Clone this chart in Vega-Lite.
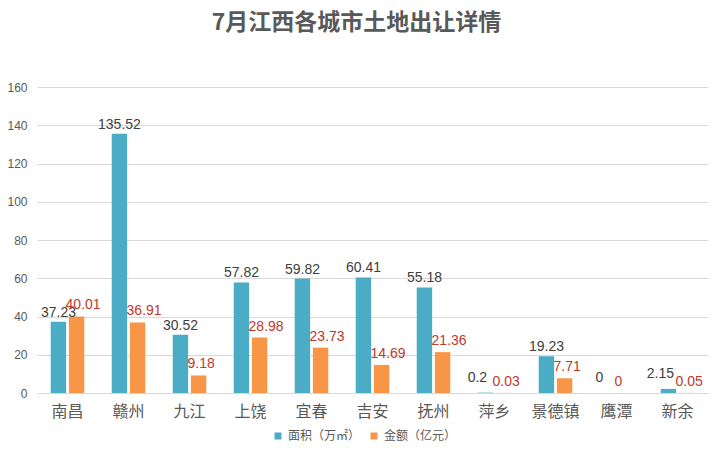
{
  "$schema": "https://vega.github.io/schema/vega-lite/v6.json",
  "width": 671,
  "height": 306,
  "autosize": {"type": "none"},
  "padding": {"left": 37, "top": 87, "right": 12, "bottom": 62},
  "background": "white",
  "title": {
    "text": "7月江西各城市土地出让详情",
    "font": "Noto Sans CJK SC",
    "fontSize": 23,
    "fontWeight": "bold",
    "color": "#595959",
    "anchor": "middle",
    "dx": -16,
    "offset": 46
  },
  "data": {
    "values": [
      {"city": "南昌", "series": "面积（万㎡）", "value": 37.23},
      {"city": "南昌", "series": "金额（亿元）", "value": 40.01},
      {"city": "赣州", "series": "面积（万㎡）", "value": 135.52},
      {"city": "赣州", "series": "金额（亿元）", "value": 36.91},
      {"city": "九江", "series": "面积（万㎡）", "value": 30.52},
      {"city": "九江", "series": "金额（亿元）", "value": 9.18},
      {"city": "上饶", "series": "面积（万㎡）", "value": 57.82},
      {"city": "上饶", "series": "金额（亿元）", "value": 28.98},
      {"city": "宜春", "series": "面积（万㎡）", "value": 59.82},
      {"city": "宜春", "series": "金额（亿元）", "value": 23.73},
      {"city": "吉安", "series": "面积（万㎡）", "value": 60.41},
      {"city": "吉安", "series": "金额（亿元）", "value": 14.69},
      {"city": "抚州", "series": "面积（万㎡）", "value": 55.18},
      {"city": "抚州", "series": "金额（亿元）", "value": 21.36},
      {"city": "萍乡", "series": "面积（万㎡）", "value": 0.2},
      {"city": "萍乡", "series": "金额（亿元）", "value": 0.03},
      {"city": "景德镇", "series": "面积（万㎡）", "value": 19.23},
      {"city": "景德镇", "series": "金额（亿元）", "value": 7.71},
      {"city": "鹰潭", "series": "面积（万㎡）", "value": 0},
      {"city": "鹰潭", "series": "金额（亿元）", "value": 0},
      {"city": "新余", "series": "面积（万㎡）", "value": 2.15},
      {"city": "新余", "series": "金额（亿元）", "value": 0.05}
    ]
  },
  "encoding": {
    "x": {
      "field": "city",
      "type": "nominal",
      "sort": null,
      "scale": {"paddingInner": 0.45, "paddingOuter": 0.225},
      "axis": {
        "title": null,
        "labelAngle": 0,
        "labelFont": "Noto Sans CJK SC",
        "labelFontSize": 16,
        "labelColor": "#595959",
        "ticks": false,
        "domain": false,
        "labelPadding": 10
      }
    },
    "xOffset": {
      "field": "series",
      "type": "nominal",
      "sort": ["面积（万㎡）", "金额（亿元）"],
      "scale": {"paddingInner": 0.15}
    },
    "y": {
      "field": "value",
      "type": "quantitative",
      "scale": {"domain": [0, 160], "nice": false},
      "axis": {
        "title": null,
        "values": [0, 20, 40, 60, 80, 100, 120, 140, 160],
        "labelFont": "Liberation Sans",
        "labelFontSize": 12,
        "labelColor": "#595959",
        "ticks": false,
        "domain": false,
        "labelPadding": 10,
        "gridColor": "#d9d9d9",
        "gridWidth": 1
      }
    }
  },
  "layer": [
    {
      "mark": {"type": "bar"},
      "encoding": {
        "color": {
          "field": "series",
          "type": "nominal",
          "sort": ["面积（万㎡）", "金额（亿元）"],
          "scale": {"domain": ["面积（万㎡）", "金额（亿元）"], "range": ["#4BACC6", "#F79646"]},
          "legend": {
            "title": null,
            "orient": "none",
            "legendX": 235,
            "legendY": 343,
            "direction": "horizontal",
            "padding": 0,
            "symbolType": "square",
            "symbolSize": 49,
            "symbolStrokeWidth": 0,
            "symbolOffset": 0,
            "labelOffset": 4,
            "labelFont": "Noto Sans CJK SC",
            "labelFontSize": 12,
            "labelColor": "#595959",
            "columnPadding": 7
          }
        }
      }
    },
    {
      "transform": [{"filter": "datum.series === '面积（万㎡）' && datum.value >= 3"}],
      "mark": {"type": "text", "baseline": "bottom", "dy": -2, "font": "Liberation Sans", "fontSize": 14, "color": "#404040"},
      "encoding": {"text": {"field": "value", "type": "nominal"}}
    },
    {
      "transform": [{"filter": "datum.series === '面积（万㎡）' && datum.value < 3"}],
      "mark": {"type": "text", "baseline": "bottom", "dx": -8, "dy": -8, "font": "Liberation Sans", "fontSize": 14, "color": "#404040"},
      "encoding": {"text": {"field": "value", "type": "nominal"}}
    },
    {
      "transform": [{"filter": "datum.series === '金额（亿元）'"}],
      "mark": {"type": "text", "baseline": "bottom", "align": "left", "dx": -11, "dy": -4, "font": "Liberation Sans", "fontSize": 14, "color": "#C0392B"},
      "encoding": {"text": {"field": "value", "type": "nominal"}}
    }
  ],
  "config": {
    "view": {"stroke": null}
  }
}
